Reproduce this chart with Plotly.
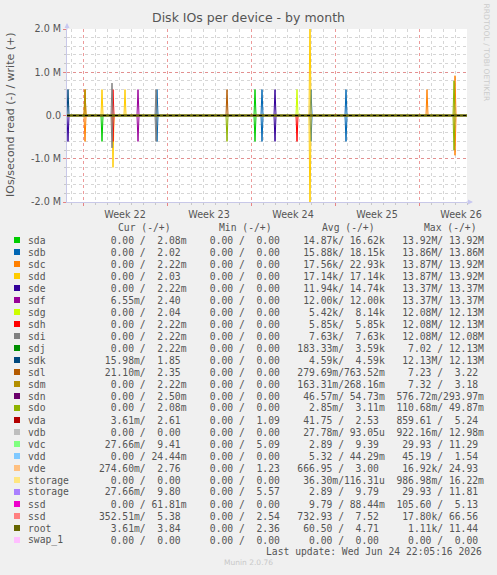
import plotly.graph_objects as go
from datetime import datetime, timedelta

# ---------------- data ----------------
devices = ["sda", "sdb", "sdc", "sdd", "sde", "sdf", "sdg", "sdh", "sdi", "sdj", "sdk", "sdl", "sdm",
           "sdn", "sdo", "vda", "vdb", "vdc", "vdd", "vde", "storage", "storage", "ssd", "ssd",
           "root", "swap_1"]
colors = ["#00CC00", "#0066B3", "#FF8000", "#FFCC00", "#330099", "#990099", "#CCFF00", "#FF0000",
          "#808080", "#008F00", "#00487D", "#B35A00", "#B38F00", "#6B006B", "#8FB300", "#B30000",
          "#BEBEBE", "#80FF80", "#80C9FF", "#FFC080", "#FFE680", "#AA80FF", "#EE00CC", "#FF8080",
          "#666600", "#FFBFFF"]

cur_read = ["0.00", "0.00", "0.00", "0.00", "0.00", "6.55m", "0.00", "0.00", "0.00", "0.00", "15.98m",
            "21.10m", "0.00", "0.00", "0.00", "3.61m", "0.00", "27.66m", "0.00", "274.60m", "0.00",
            "27.66m", "0.00", "352.51m", "3.61m", "0.00"]
cur_write = ["2.08m", "2.02", "2.22m", "2.03", "2.22m", "2.40", "2.04", "2.22m", "2.22m", "2.22m", "1.85",
             "2.35", "2.22m", "2.50m", "2.08m", "2.61", "0.00", "9.41", "24.44m", "2.76", "0.00",
             "9.80", "61.81m", "5.38", "3.84", "0.00"]
min_read = ["0.00"] * 26
min_write = ["0.00", "0.00", "0.00", "0.00", "0.00", "0.00", "0.00", "0.00", "0.00", "0.00", "0.00",
             "0.00", "0.00", "0.00", "0.00", "1.09", "0.00", "5.09", "0.00", "1.23", "0.00", "5.57",
             "0.00", "2.54", "2.36", "0.00"]
avg_read = ["14.87k", "15.88k", "17.56k", "17.14k", "11.94k", "12.00k", "5.42k", "5.85k", "7.63k",
            "183.33m", "4.59k", "279.69m", "163.31m", "46.57m", "2.85m", "41.75", "27.78m", "2.89",
            "5.32", "666.95", "36.30m", "2.89", "9.79", "732.93", "60.50", "0.00"]
avg_write = ["16.62k", "18.15k", "22.93k", "17.14k", "14.74k", "12.00k", "8.14k", "5.85k", "7.63k",
             "3.59k", "4.59k", "763.52m", "268.16m", "54.73m", "3.11m", "2.53", "93.05u", "9.39",
             "44.29m", "3.00", "116.31u", "9.79", "88.44m", "7.52", "4.71", "0.00"]
max_read = ["13.92M", "13.86M", "13.87M", "13.87M", "13.37M", "13.37M", "12.08M", "12.08M", "12.08M",
            "7.02", "12.13M", "7.23", "7.32", "576.72m", "110.68m", "859.61", "922.16m", "29.93",
            "45.19", "16.92k", "986.98m", "29.93", "105.60", "17.80k", "1.11k", "0.00"]
max_write = ["13.92M", "13.86M", "13.92M", "13.92M", "13.37M", "13.37M", "12.13M", "12.13M", "12.08M",
             "12.13M", "12.13M", "3.22", "3.18", "293.97m", "49.87m", "5.24", "12.98m", "11.29",
             "1.54", "24.93", "16.22m", "11.81", "5.13", "66.56", "11.44", "0.00"]

# spikes: (device, time, write IOs/s, read IOs/s)
spikes = [
    ("sdk", "2026-05-23 18:00", 0.60e6, 0.0),
    ("sde", "2026-05-23 18:00", 0.0, 0.60e6),
    ("sdc", "2026-05-25 04:00", 0.60e6, 0.60e6),
    ("sdm", "2026-05-25 04:00", 0.60e6, 0.0),
    ("sdd", "2026-05-26 14:00", 0.60e6, 0.0),
    ("sda", "2026-05-26 14:00", 0.0, 0.60e6),
    ("sdi", "2026-05-27 10:00", 0.75e6, 0.75e6),
    ("sdh", "2026-05-27 12:00", 0.60e6, 0.60e6),
    ("sdd", "2026-05-27 12:00", 0.0, 1.20e6),
    ("sdd", "2026-05-28 12:00", 0.60e6, 0.0),
    ("sdf", "2026-05-29 14:00", 0.60e6, 0.60e6),
    ("sdi", "2026-05-31 02:00", 0.60e6, 0.60e6),
    ("sdb", "2026-05-31 04:00", 0.60e6, 0.60e6),
    ("sdl", "2026-06-06 00:00", 0.60e6, 0.0),
    ("sdo", "2026-06-06 00:00", 0.0, 0.60e6),
    ("sda", "2026-06-08 08:00", 0.60e6, 0.60e6),
    ("sdb", "2026-06-08 22:00", 0.60e6, 0.60e6),
    ("sde", "2026-06-10 00:00", 0.60e6, 0.60e6),
    ("sdg", "2026-06-11 20:00", 0.60e6, 0.0),
    ("sdh", "2026-06-11 20:00", 0.0, 0.60e6),
    ("sdd", "2026-06-12 22:00", 2.50e6, 2.50e6),
    ("sdb", "2026-06-13 00:00", 0.60e6, 0.60e6),
    ("sdb", "2026-06-15 22:00", 0.60e6, 0.60e6),
    ("sdc", "2026-06-22 16:00", 0.60e6, 0.0),
    ("sdo", "2026-06-24 22:00", 0.80e6, 0.80e6),
    ("sdc", "2026-06-25 00:00", 0.92e6, 0.92e6),
]

x_start = datetime(2026, 5, 23, 16, 0)
x_end = datetime(2026, 6, 26, 0, 0)
step = timedelta(hours=2)

ytick_vals = [-2e6, -1e6, 0, 1e6, 2e6]
ytick_text = ["-2.0 M", "-1.0 M", "0.0", "1.0 M", "2.0 M"]

# ---------------- geometry helpers ----------------
W, H = 497, 575
PL, PR, PT, PB = 67, 467, 29, 202


def px_x(px):
    return (px - PL) / (PR - PL)


def px_y(py):
    return (PB - py) / (PB - PT)


def series(dev, which):
    evs = []
    for d, t, w, r in spikes:
        if d == dev:
            v = w if which == "w" else -r
            if v != 0:
                evs.append((datetime.fromisoformat(t), v))
    evs.sort()
    xs, ys = [x_start], [0.0]
    for t, v in evs:
        xs += [t - step, t, t + step]
        ys += [0.0, v, 0.0]
    xs.append(x_end)
    ys.append(0.0)
    return xs, ys


fig = go.Figure()
for dev, col in zip(devices, colors):
    for which in ("r", "w"):
        xs, ys = series(dev, which)
        fig.add_trace(go.Scatter(x=xs, y=ys, mode="lines", line=dict(color=col, width=1),
                                 showlegend=False, hoverinfo="skip"))

TXT = "#555555"
fig.update_layout(
    width=W, height=H, paper_bgcolor="#F0F0F0", plot_bgcolor="#FFFFFF",
    margin=dict(l=PL, r=W - PR, t=PT, b=H - PB, pad=0, autoexpand=False),
    showlegend=False,
    title=dict(text="Disk IOs per device - by month", x=0.5, xref="container", xanchor="center",
               y=1 - 18 / H, yref="container", yanchor="middle",
               font=dict(family="DejaVu Sans", size=12.5, color=TXT)),
    font=dict(family="DejaVu Sans", color=TXT),
)

fig.update_xaxes(
    type="date", range=[x_start, x_end], tick0="2026-05-25", dtick=7 * 86400000,
    ticklabelmode="period", tickformat="Week %V",
    tickfont=dict(family="DejaVu Sans", size=9.6, color=TXT),
    showgrid=True, gridcolor="rgba(230,120,120,0.75)", griddash="dot", gridwidth=1,
    ticks="outside", ticklen=3, tickcolor="rgba(230,120,120,0.9)",
    minor=dict(dtick=86400000, showgrid=True, gridcolor="#D6D6D6", griddash="dot",
               ticks="outside", ticklen=2, tickcolor="#C8C8C8"),
    showline=True, linecolor="#C8C8E8", linewidth=1, zeroline=False,
)
fig.update_yaxes(
    range=[-2e6, 2e6], tickvals=ytick_vals, ticktext=ytick_text,
    tickfont=dict(family="DejaVu Sans", size=9.6, color=TXT),
    showgrid=True, gridcolor="rgba(230,120,120,0.75)", griddash="dot", gridwidth=1,
    ticks="outside", ticklen=3, tickcolor="rgba(230,120,120,0.9)",
    minor=dict(dtick=2e5, showgrid=True, gridcolor="#D6D6D6", griddash="dot",
               ticks="outside", ticklen=2, tickcolor="#C8C8C8"),
    showline=True, linecolor="#C8C8E8", linewidth=1, zeroline=False,
)

shapes = []
# zero rule
shapes.append(dict(type="line", xref="paper", yref="y", x0=0, x1=1, y0=0, y1=0,
                   line=dict(color="#666600", width=2.5), layer="above"))
shapes.append(dict(type="line", xref="paper", yref="y", x0=0, x1=1, y0=0, y1=0,
                   line=dict(color="#000000", width=1, dash="dot"), layer="above"))

annotations = []
# axis arrows
annotations.append(dict(x=px_x(473), y=px_y(PB), xref="paper", yref="paper", ax=-8, ay=0,
                        showarrow=True, arrowhead=2, arrowsize=1, arrowwidth=1,
                        arrowcolor="#C8C8F0", text=""))
annotations.append(dict(x=px_x(PL), y=px_y(23), xref="paper", yref="paper", ax=0, ay=8,
                        showarrow=True, arrowhead=2, arrowsize=1, arrowwidth=1,
                        arrowcolor="#C8C8F0", text=""))
# y axis title
annotations.append(dict(text="IOs/second read (-) / write (+)", x=px_x(10), y=px_y(115),
                        xref="paper", yref="paper", textangle=-90, showarrow=False,
                        xanchor="center", yanchor="middle",
                        font=dict(family="DejaVu Sans", size=11, color=TXT)))
# rrdtool watermark
annotations.append(dict(text="RRDTOOL / TOBI OETIKER", x=px_x(486.5), y=px_y(53),
                        xref="paper", yref="paper", textangle=90, showarrow=False,
                        xanchor="center", yanchor="middle",
                        font=dict(family="DejaVu Sans", size=7.6, color="#CCCCCC")))

MONO = "DejaVu Sans Mono"
FS = 9.7
NB = "\u00a0"


def fmt(v):
    if v[-1] in "kMmu":
        num, suf = v[:-1], v[-1]
    else:
        num, suf = v, " "
    return num.rjust(6) + suf


def cell(a, b):
    return fmt(a) + "/" + fmt(b)


# header
for label, px in [("Cur (-/+)", 117), ("Min (-/+)", 218.3), ("Avg (-/+)", 321), ("Max (-/+)", 423.3)]:
    annotations.append(dict(text=label.replace(" ", NB), x=px_x(px), y=px_y(227), xref="paper",
                            yref="paper", showarrow=False, xanchor="left", yanchor="middle",
                            borderpad=0, font=dict(family=MONO, size=FS, color=TXT)))

for i, dev in enumerate(devices):
    ry = 240 + 12 * i
    shapes.append(dict(type="rect", xref="paper", yref="paper", x0=px_x(14), x1=px_x(20),
                       y0=px_y(ry + 3), y1=px_y(ry - 3), fillcolor=colors[i], line=dict(width=0)))
    annotations.append(dict(text=dev, x=px_x(27), y=px_y(ry), xref="paper", yref="paper",
                            showarrow=False, xanchor="left", yanchor="middle", borderpad=0,
                            font=dict(family=MONO, size=FS, color=TXT)))
    row = "  ".join([cell(cur_read[i], cur_write[i]), cell(min_read[i], min_write[i]),
                     cell(avg_read[i], avg_write[i]), cell(max_read[i], max_write[i])])
    annotations.append(dict(text=row.replace(" ", NB), x=px_x(98), y=px_y(ry), xref="paper",
                            yref="paper", showarrow=False, xanchor="left", yanchor="middle",
                            borderpad=0, font=dict(family=MONO, size=FS, color=TXT)))

annotations.append(dict(text="Last update: Wed Jun 24 22:05:16 2026".replace(" ", NB),
                        x=px_x(483), y=px_y(551.5), xref="paper", yref="paper", showarrow=False,
                        xanchor="right", yanchor="middle", borderpad=0,
                        font=dict(family=MONO, size=FS, color=TXT)))
annotations.append(dict(text="Munin 2.0.76", x=px_x(248), y=px_y(562.5), xref="paper",
                        yref="paper", showarrow=False, xanchor="center", yanchor="middle",
                        borderpad=0, font=dict(family="DejaVu Sans", size=7.5, color="#C8C8C8")))

fig.update_layout(shapes=shapes, annotations=annotations)
fig.write_html("out.html")
